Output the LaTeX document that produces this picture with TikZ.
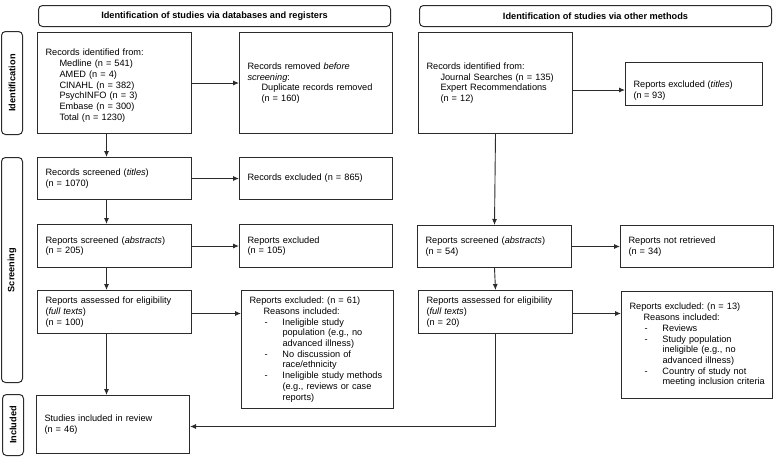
\documentclass[tikz,border=0pt]{standalone}
\usepackage{fontspec}
\setmainfont{Liberation Sans}
\usetikzlibrary{arrows.meta}
\definecolor{ln}{HTML}{2B2B2B}
\newcommand\fs{\fontsize{9.2}{10.7}\selectfont\frenchspacing}
\newcommand\ind{\hspace*{14pt}}
\newcommand\ditem{\hspace*{15pt}\makebox[18pt][l]{-}}
\newcommand\dcont{\hspace*{33pt}}
\begin{document}
\begin{tikzpicture}[x=1pt,y=-1pt,
 box/.style={draw=ln, line width=1pt, anchor=north west, align=left, inner xsep=8pt, inner ysep=2pt, font=\fs, text=black},
 hdr/.style={draw=ln, line width=1pt, rounded corners=4pt, anchor=north west, align=center, font=\fs\bfseries, inner sep=0pt, minimum width=352pt, minimum height=21pt},
 side/.style={draw=ln, line width=1pt, rounded corners=4pt, anchor=north west, inner sep=0pt, minimum width=21pt},
 sidelbl/.style={rotate=90, font=\fs\bfseries, inner sep=0pt},
 arr/.style={draw=ln, line width=0.9pt, -{Latex[length=6pt,width=5pt]}}
]
\useasboundingbox (0,0) rectangle (780,456);

% headers
\node[hdr] (hL) at (38,5) {Identification of studies via databases and registers};
\node[hdr] (hR) at (419,5) {Identification of studies via other methods};

% side labels
\node[side, minimum height=103pt] (sId) at (1,31) {};
\node[sidelbl] (sIdl) at (sId.center) {Identification};
\node[side, minimum height=225pt] (sSc) at (1,157) {};
\node[sidelbl] (sScl) at (sSc.center) {Screening};
\node[side, minimum height=61pt] (sIn) at (2,394) {};
\node[sidelbl] (sInl) at (sIn.center) {Included};

% left column
\node[box, text width=138pt, minimum height=101pt] (recL) at (37,32) {\rule{0pt}{12pt}Records identified from:\\
\ind Medline (n = 541)\\
\ind AMED (n = 4)\\
\ind CINAHL (n = 382)\\
\ind PsychINFO (n = 3)\\
\ind Embase (n = 300)\\
\ind Total (n = 1230)};
\node[box, text width=137pt, minimum height=101pt] (remL) at (239,32) {Records removed \textit{before}\\
\textit{screening}:\\
\ind Duplicate records removed\\
\ind (n = 160)};
\node[box, text width=138pt, minimum height=42pt] (scrL) at (37,157) {Records screened (\textit{titles})\\(n = 1070)};
\node[box, text width=137pt, minimum height=42pt] (exL1) at (239,157) {Records excluded (n = 865)};
\node[box, text width=138pt, minimum height=43pt] (absL) at (37,224) {Reports screened (\textit{abstracts})\\(n = 205)};
\node[box, text width=137pt, minimum height=43pt] (exL2) at (239,224) {Reports excluded\\(n = 105)};
\node[box, text width=138pt, minimum height=43pt] (fulL) at (37,290) {Reports assessed for eligibility\\(\textit{full texts})\\(n = 100)};
\node[box, text width=136pt, minimum height=118pt] (exL3) at (241,290) {Reports excluded: (n = 61)\\
\ind Reasons included:\\
\ditem Ineligible study\\
\dcont population (e.g., no\\
\dcont advanced illness)\\
\ditem No discussion of\\
\dcont race/ethnicity\\
\ditem Ineligible study methods\\
\dcont (e.g., reviews or case\\
\dcont reports)};
\node[box, text width=137pt, minimum height=58pt] (inc) at (36,395) {Studies included in review\\(n = 46)};

% right column
\node[box, text width=138pt, minimum height=101pt] (recR) at (418,32) {Records identified from:\\
\ind Journal Searches (n = 135)\\
\ind Expert Recommendations\\
\ind (n = 12)};
\node[box, inner ysep=1pt] (exR1) at (625,62) {\parbox[c][41pt][b]{121pt}{\raggedright Reports excluded (\textit{titles})\\(n = 93)\par\vspace*{4pt}}};
\node[box, text width=138pt, minimum height=42pt] (absR) at (417,225) {Reports screened (\textit{abstracts})\\(n = 54)};
\node[box, text width=137pt, minimum height=42pt] (notR) at (620,225) {Reports not retrieved\\(n = 34)};
\node[box, text width=138pt, minimum height=43pt] (fulR) at (418,290) {Reports assessed for eligibility\\(\textit{full texts})\\(n = 20)};
\node[box, text width=135pt, minimum height=107pt] (exR3) at (621,291) {Reports excluded: (n = 13)\\
\ind Reasons included:\\
\ditem Reviews\\
\ditem Study population\\
\dcont ineligible (e.g., no\\
\dcont advanced illness)\\
\ditem Country of study not\\
\dcont \mbox{meeting inclusion criteria}};

% connectors left
\draw[arr] (recL.east) -- (remL.west);
\draw[arr] ([xshift=-8pt]recL.south) -- ([xshift=-8pt]scrL.north);
\draw[arr] (scrL.east) -- (exL1.west);
\draw[arr] ([xshift=-8pt]scrL.south) -- ([xshift=-8pt]absL.north);
\draw[arr] (absL.east) -- (exL2.west);
\draw[arr] ([xshift=-8pt]absL.south) -- ([xshift=-8pt]fulL.north);
\draw[arr] ([yshift=-1.5pt]fulL.east) -- ([yshift=-1.5pt]fulL.east -| exL3.west);
\draw[arr] ([xshift=-8pt]fulL.south) -- ([xshift=-6.5pt]inc.north);

% connectors right
\draw[arr] ([yshift=-6pt]recR.east |- exR1.west) -- ([yshift=-6pt]exR1.west);
\draw[arr] (recR.south) -- (absR.north);
\draw[arr] (absR.east) -- (notR.west);
\draw[arr] (absR.south) -- (fulR.north);
\draw[arr] ([yshift=-1.5pt]fulR.east) -- ([yshift=-1.5pt]fulR.east -| exR3.west);
\draw[arr] (fulR.south) |- ([yshift=-2pt]inc.east);
\end{tikzpicture}
\end{document}
